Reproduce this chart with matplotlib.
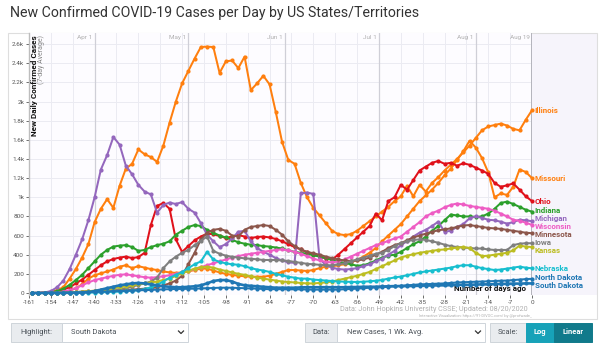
import numpy as np
import matplotlib
matplotlib.use("Agg")
import matplotlib.pyplot as plt
from matplotlib.patches import Rectangle
from matplotlib.lines import Line2D

W, H = 600, 343

# days before Aug 19, every second day
days = np.arange(-160, 1, 2)

illinois = [0, 2, 5, 10, 30, 60, 150, 250, 370, 510,
            740, 880, 980, 890, 1120, 1300, 1350, 1500, 1450, 1420,
            1370, 1540, 1780, 2000, 2190, 2320, 2450, 2570, 2575, 2570,
            2300, 2420, 2430, 2350, 2470, 2120, 2190, 2270, 2180, 1890,
            1580, 1390, 1350, 1150, 1000, 890, 810, 730, 650, 615,
            605, 615, 650, 700, 750, 800, 850, 900, 960, 1010,
            1120, 1010, 1130, 1060, 1150, 1210, 1280, 1340, 1400, 1470,
            1540, 1620, 1700, 1740, 1755, 1770, 1750, 1715, 1700, 1810,
            1910]
missouri = [0, 0, 0, 2, 5, 10, 25, 50, 90, 150,
            185, 205, 225, 245, 275, 290, 260, 280, 265, 250,
            240, 225, 215, 210, 215, 225, 240, 255, 255, 235,
            215, 200, 190, 180, 175, 170, 170, 170, 180, 200,
            220, 240, 240, 235, 230, 240, 260, 275, 280, 290,
            300, 320, 345, 380, 420, 470, 540, 600, 660, 720,
            800, 880, 960, 1020, 1080, 1150, 1230, 1300, 1390, 1480,
            1590, 1520, 1410, 1260, 1000, 1040, 1025, 1110, 1290, 1265,
            1200]
ohio = [0, 0, 2, 5, 15, 35, 60, 100, 140, 190,
        240, 290, 330, 355, 370, 380, 365, 375, 420, 710,
        910, 940, 880, 560, 430, 490, 550, 590, 620, 615,
        595, 575, 590, 605, 590, 575, 585, 590, 580, 565,
        540, 510, 480, 455, 425, 400, 380, 360, 350, 400,
        460, 520, 580, 640, 700, 830, 760, 960, 1000, 1130,
        1080, 1180, 1280, 1320, 1360, 1380, 1350, 1360, 1330, 1355,
        1340, 1310, 1280, 1245, 1150, 1110, 1125, 1145, 1080, 1010,
        960]
indiana = [0, 0, 2, 8, 20, 45, 85, 135, 190, 260,
           330, 400, 450, 485, 495, 500, 480, 440, 450, 480,
           500, 515, 540, 610, 650, 690, 710, 700, 660, 630,
           600, 580, 555, 530, 515, 505, 500, 490, 485, 475,
           465, 445, 430, 420, 410, 395, 380, 365, 345, 330,
           315, 300, 285, 290, 310, 340, 370, 390, 400, 430,
           470, 510, 540, 590, 650, 700, 760, 820, 810, 800,
           800, 795, 800, 830, 880, 940, 955, 930, 900, 870,
           850]
michigan = [0, 2, 5, 20, 60, 130, 250, 400, 560, 760,
            1000, 1290, 1440, 1630, 1550, 1330, 1240, 1130, 1060, 1030,
            840, 920, 945, 930, 950, 880, 840, 730, 610, 540,
            480, 510, 570, 640, 650, 540, 470, 430, 400, 365,
            340, 320, 315, 1040, 1050, 1035, 360, 290, 265, 250,
            245, 250, 260, 280, 300, 330, 360, 400, 440, 500,
            540, 590, 630, 660, 700, 745, 640, 650, 690, 720,
            780, 800, 785, 765, 760, 745, 725, 740, 765, 760,
            750]
wisconsin = [0, 0, 0, 2, 5, 15, 30, 50, 80, 110,
             135, 150, 165, 180, 190, 195, 185, 175, 165, 160,
             165, 175, 185, 200, 215, 230, 250, 270, 290, 310,
             330, 350, 370, 385, 400, 410, 420, 430, 440, 450,
             455, 445, 430, 410, 385, 360, 340, 325, 320, 330,
             350, 380, 410, 440, 470, 500, 520, 545, 570, 590,
             640, 690, 740, 800, 835, 860, 895, 920, 935, 925,
             910, 900, 890, 880, 860, 830, 800, 765, 755, 735,
             712]
minnesota = [0, 0, 1, 2, 3, 5, 8, 10, 15, 18,
             20, 22, 25, 28, 30, 32, 35, 40, 45, 50,
             60, 80, 100, 130, 180, 300, 420, 560, 630, 660,
             670, 650, 600, 590, 660, 690, 700, 710, 700, 660,
             610, 540, 490, 455, 430, 415, 400, 380, 365, 350,
             340, 335, 340, 350, 370, 400, 430, 470, 500, 520,
             550, 580, 600, 620, 640, 655, 665, 675, 690, 705,
             710, 700, 690, 680, 675, 670, 660, 650, 640, 630,
             625]
iowa = [0, 0, 0, 1, 2, 3, 5, 6, 8, 10,
        10, 15, 20, 30, 40, 50, 65, 85, 100, 120,
        160, 260, 330, 380, 420, 450, 500, 545, 590, 440,
        410, 390, 378, 370, 362, 358, 352, 345, 345, 345,
        340, 335, 325, 315, 305, 300, 295, 290, 290, 300,
        310, 330, 350, 370, 390, 410, 420, 450, 490, 520,
        540, 555, 560, 555, 540, 525, 505, 490, 480, 475,
        470, 465, 465, 455, 450, 450, 450, 500, 515, 520,
        520]
kansas = [0, 0, 0, 0, 1, 2, 5, 8, 12, 18,
          25, 30, 40, 50, 60, 70, 80, 90, 100, 110,
          120, 135, 150, 180, 205, 230, 255, 270, 275, 265,
          245, 230, 215, 200, 190, 175, 160, 150, 140, 130,
          120, 115, 110, 105, 100, 100, 105, 110, 120, 135,
          150, 165, 180, 200, 220, 250, 280, 310, 340, 370,
          390, 405, 420, 430, 440, 450, 455, 465, 475, 480,
          470, 420, 385, 390, 400, 410, 420, 445, 495, 485,
          480]
nebraska = [0, 0, 0, 0, 0, 1, 2, 3, 4, 5,
            5, 7, 10, 12, 15, 20, 25, 30, 40, 60,
            85, 120, 160, 190, 220, 260, 300, 330, 430, 350,
            325, 310, 300, 295, 280, 260, 245, 235, 220, 200,
            185, 170, 160, 150, 150, 140, 135, 130, 125, 120,
            118, 116, 115, 118, 122, 128, 136, 150, 162, 172,
            185, 200, 215, 225, 235, 245, 255, 265, 280, 290,
            290, 275, 260, 250, 240, 245, 255, 265, 275, 265,
            258]
north_dakota = [0, 0, 0, 0, 0, 0, 2, 3, 5, 8,
                10, 12, 15, 18, 20, 22, 25, 28, 30, 32,
                35, 38, 40, 42, 42, 44, 45, 48, 50, 52,
                55, 55, 55, 52, 50, 48, 45, 42, 40, 40,
                40, 39, 38, 38, 36, 35, 35, 35, 35, 35,
                40, 42, 45, 50, 55, 57, 60, 65, 70, 75,
                80, 85, 90, 92, 95, 98, 100, 105, 110, 112,
                115, 118, 120, 122, 125, 128, 130, 135, 140, 145,
                148]
south_dakota = [0, 0, 0, 0, 0, 1, 2, 3, 5, 10,
                20, 35, 50, 65, 80, 90, 100, 105, 100, 90,
                80, 70, 65, 60, 60, 65, 70, 80, 100, 125,
                135, 135, 120, 95, 80, 75, 70, 65, 60, 55,
                55, 55, 55, 58, 60, 60, 60, 60, 60, 60,
                60, 62, 62, 65, 65, 65, 68, 70, 72, 72,
                72, 74, 75, 78, 78, 80, 80, 82, 85, 85,
                85, 88, 90, 90, 92, 95, 95, 98, 98, 100,
                100]

states = ["Illinois", "Missouri", "Ohio", "Indiana", "Michigan", "Wisconsin",
          "Minnesota", "Iowa", "Kansas", "Nebraska", "North Dakota", "South Dakota"]
series = [illinois, missouri, ohio, indiana, michigan, wisconsin,
          minnesota, iowa, kansas, nebraska, north_dakota, south_dakota]
colors = ["#ff7f0e", "#ff7f0e", "#e0111b", "#2ca02c", "#9467bd", "#ee5cc4",
          "#8c564b", "#7f7f7f", "#bcbd22", "#17becf", "#1f77b4", "#1f77b4"]

y_ticks = list(range(0, 2800, 200))
x_ticks = list(range(-161, 1, 7))
date_days = [-140, -110, -79, -49, -18, 0]
date_names = ["Apr 1", "May 1", "Jun 1", "Jul 1", "Aug 1", "Aug 19"]

plt.rcParams['font.family'] = ['Roboto', 'DejaVu Sans']


def fx(px):
    return px / W


def fy(py):
    return 1 - py / H


def spreadLabels(ends, gap):
    """Push end labels apart so they do not overlap."""
    order = sorted(range(len(ends)), key=lambda i: -ends[i])
    pos = [float(ends[i]) for i in order]
    for _ in range(80):
        for k in range(len(pos) - 1):
            d = pos[k] - pos[k + 1]
            if d < gap:
                shift = (gap - d) / 2
                pos[k] += shift
                pos[k + 1] -= shift
    out = [0.0] * len(ends)
    for k, i in enumerate(order):
        out[i] = pos[k]
    return out


fig = plt.figure(figsize=(W / 100, H / 100), dpi=100)

# outer card and the shaded label strip (behind the axes)
fig.patches.append(Rectangle((fx(532), fy(295)), fx(597) - fx(532), fy(33) - fy(295),
                             transform=fig.transFigure, facecolor="#f6f4fb",
                             edgecolor="none", zorder=-2))
fig.patches.append(Rectangle((fx(8), fy(319)), fx(597) - fx(8), fy(33) - fy(319),
                             transform=fig.transFigure, fill=False,
                             edgecolor="#dedede", lw=0.8, zorder=-1))

ax = fig.add_axes([fx(29), fy(295), fx(532) - fx(29), fy(33) - fy(295)])
ax.set_xlim(-161, 0)
ax.set_ylim(-21, 2717)
ax.set_facecolor("#fdfcff")

for v in y_ticks[1:]:
    ax.axhline(v, color="#ebebf2", lw=0.7, zorder=0)
for d in x_ticks:
    ax.axvline(d, color="#ebebf2", lw=0.7, zorder=0)
for d, name in zip(date_days, date_names):
    if d == 0:
        ax.axvline(d, color="#b4b4bc", lw=1.4, zorder=1)
    else:
        ax.axvline(d, color="#cfcfd7", lw=0.9, zorder=1)
    ax.text(d - 0.7, 2668, name, ha="right", va="center", fontsize=4.6,
            color="#b0b0b0")

for name in ["top", "right", "bottom"]:
    ax.spines[name].set_visible(False)
ax.spines["left"].set_color("#bdbdbd")
ax.spines["left"].set_linewidth(1.0)

ax.set_yticks(y_ticks)
ax.set_yticklabels([str(v) if v < 1000 else f"{v / 1000:g}k" for v in y_ticks])
ax.set_xticks(x_ticks)
ax.set_xticklabels([str(d) for d in x_ticks])
ax.tick_params(axis="both", labelsize=4.6, colors="#555555", length=2, width=0.6,
               pad=1.5)

ax.text(-13.5, 50, "Number of days ago", ha="center", va="center",
        fontsize=5.8, fontweight="bold", color="#111111", zorder=2)

for name, vals, col in zip(states, series, colors):
    lw = 1.9 if name == "South Dakota" else 1.45
    z = 6 if name == "South Dakota" else 4
    ax.plot(days, vals, color=col, lw=lw, marker="o", ms=3.0, mew=0,
            clip_on=False, zorder=z)

# end-of-line state names, nudged apart where they crowd
labelPos = spreadLabels([s[-1] for s in series], 84)
for name, yv, col in zip(states, labelPos, colors):
    ax.text(0.9, yv, name, ha="left", va="center", fontsize=5.8,
            fontweight="bold", color=col, clip_on=False, zorder=7)

# axis caption inside the chart
fig.text(fx(35), fy(35), "New Daily Confirmed Cases", rotation=90, ha="center",
         va="top", fontsize=5.9, fontweight="bold", color="#111111")
fig.text(fx(41.5), fy(35), "(7-day Average)", rotation=90, ha="center",
         va="top", fontsize=5.0, color="#888888")

fig.text(fx(10), fy(13), "New Confirmed COVID-19 Cases per Day by US States/Territories",
         ha="left", va="center", fontsize=10.2, color="#333333")

fig.text(fx(528), fy(309.5), "Data: John Hopkins University CSSE; Updated: 08/20/2020",
         ha="right", va="center", fontsize=5.2, color="#b0b0b0")
fig.text(fx(532), fy(315.5), "Interactive Visualization: https://91-DIVOC.com/ by @profwade_",
         ha="right", va="center", fontsize=2.9, color="#b0b0b0")


def box(x0, x1, face, edge="#ced4da"):
    fig.patches.append(Rectangle((fx(x0), fy(342)), fx(x1) - fx(x0), fy(323) - fy(342),
                                 transform=fig.transFigure, facecolor=face,
                                 edgecolor=edge, lw=0.7))


def chevron(xc):
    fig.lines.append(Line2D([fx(xc - 2.5), fx(xc), fx(xc + 2.5)],
                            [fy(331), fy(333.5), fy(331)],
                            transform=fig.transFigure, color="#333333", lw=0.9))


ctrlY = fy(332.5)
box(11, 62, "#e9ecef")
fig.text(fx(36.5), ctrlY, "Highlight:", ha="center", va="center", fontsize=5.4,
         color="#495057")
box(62, 188, "white")
fig.text(fx(71), ctrlY, "South Dakota", ha="left", va="center", fontsize=5.4,
         color="#495057")
chevron(181)

box(305, 337, "#e9ecef")
fig.text(fx(321), ctrlY, "Data:", ha="center", va="center", fontsize=5.4,
         color="#495057")
box(337, 485, "white")
fig.text(fx(347), ctrlY, "New Cases, 1 Wk. Avg.", ha="left", va="center",
         fontsize=5.4, color="#495057")
chevron(478)

box(490, 526, "#e9ecef")
fig.text(fx(508), ctrlY, "Scale:", ha="center", va="center", fontsize=5.4,
         color="#495057")
box(526, 554, "#17a2b8", "#17a2b8")
fig.text(fx(540), ctrlY, "Log", ha="center", va="center", fontsize=5.4,
         fontweight="bold", color="white")
box(554, 592, "#117a8b", "#117a8b")
fig.text(fx(573), ctrlY, "Linear", ha="center", va="center", fontsize=5.4,
         fontweight="bold", color="white")

fig.savefig("out.png", dpi=100)
